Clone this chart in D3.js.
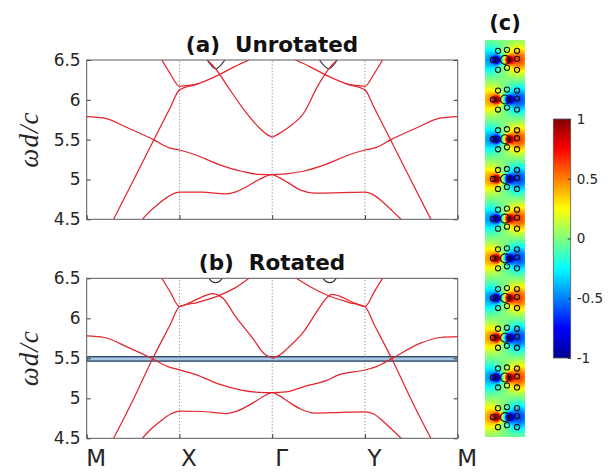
<!DOCTYPE html>
<html>
<head>
<meta charset="utf-8">
<script src="https://cdn.jsdelivr.net/npm/d3@7"></script>
<style>
  body { margin: 0; background: #fff; }
  text { font-family: "DejaVu Sans", sans-serif; fill: #262626; }
</style>
</head>
<body>
<svg id="chart"></svg>
<script>
// k-path positions and labels
const kPos = [0, 1, 2, 3, 4];
const kLabels = ["M", "X", "Γ", "Y", "M"];
const yTicks = [4.5, 5, 5.5, 6, 6.5];
const yTickLabels = ["4.5", "5", "5.5", "6", "6.5"];

// (a) unrotated bands, [k, wd/c]
const aSteepLeft = [[0.29,4.5],[0.5,4.98],[0.72,5.49],[0.9,5.9],[1,6.125],[1.2,6.2],[1.42,6.31],[1.6,6.42],[1.75,6.5]];
const aTopLeft = [[0.81,6.5],[0.9,6.33],[1,6.17],[1.1,6.18],[1.2,6.2]];
const aDescGamma = [[1.3,6.5],[1.39,6.39],[1.53,6.15],[1.68,5.9],[1.86,5.65],[1.95,5.56],[2,5.53]];
const aRiseGamma = [[2,5.53],[2.05,5.56],[2.17,5.65],[2.35,5.85],[2.48,6.15],[2.61,6.39],[2.7,6.5]];
const aSteepRight = [[2.25,6.5],[2.4,6.42],[2.58,6.31],[2.8,6.2],[3,6.125],[3.1,5.9],[3.28,5.49],[3.5,4.98],[3.71,4.5]];
const aTopRight = [[2.8,6.2],[2.9,6.18],[3,6.17],[3.1,6.33],[3.19,6.5]];
const aMid = [[0,5.79],[0.19,5.77],[0.44,5.65],[0.72,5.5],[0.88,5.4],[1,5.37],[1.17,5.31],[1.42,5.19],[1.68,5.1],[1.85,5.065],[2,5.06],
              [2.15,5.07],[2.32,5.1],[2.58,5.19],[2.83,5.31],[3,5.37],[3.12,5.4],[3.28,5.5],[3.56,5.65],[3.81,5.77],[4,5.79]];
const aLow = [[0.6,4.5],[0.68,4.6],[0.77,4.69],[0.9,4.8],[1,4.84],[1.24,4.84],[1.5,4.82],[1.6,4.84],[1.71,4.9],[1.86,5.0],[2,5.06],
              [2.08,5.02],[2.17,4.96],[2.3,4.87],[2.46,4.83],[2.75,4.835],[3,4.84],[3.1,4.8],[3.18,4.73],[3.3,4.6],[3.39,4.5]];
const aDarkLeft = [[1.3,6.5],[1.39,6.39],[1.49,6.5]];
const aDarkRight = [[2.51,6.5],[2.61,6.39],[2.7,6.5]];

// (b) rotated bands
const bSteepLeft = [[0.29,4.5],[0.5,4.98],[0.7,5.47],[0.9,5.92],[1,6.145],[1.2,6.2],[1.42,6.28],[1.6,6.38],[1.75,6.5]];
const bTopLeft = [[0.81,6.5],[0.9,6.33],[1,6.15],[1.12,6.2],[1.25,6.27],[1.36,6.31],[1.42,6.29],[1.47,6.25],[1.6,6.03],[1.79,5.75],[1.93,5.54],[2,5.51]];
const bTopRight = [[2,5.5],[2.08,5.54],[2.17,5.63],[2.35,5.85],[2.49,6.1],[2.6,6.27],[2.64,6.3],[2.72,6.28],[2.85,6.21],[3,6.15],[3.1,6.33],[3.19,6.5]];
const bSteepRight = [[2.26,6.5],[2.4,6.4],[2.57,6.3],[2.82,6.2],[3,6.145],[3.1,5.92],[3.3,5.47],[3.5,4.98],[3.71,4.5]];
const bMid = [[0,5.78],[0.19,5.76],[0.44,5.64],[0.7,5.5],[0.87,5.4],[1,5.355],[1.17,5.3],[1.42,5.18],[1.68,5.1],[1.85,5.075],[2,5.07],
              [2.15,5.08],[2.35,5.15],[2.58,5.22],[2.71,5.29],[3,5.354],[3.13,5.4],[3.28,5.49],[3.6,5.69],[3.81,5.76],[4,5.77]];
const bLow = [[0.6,4.5],[0.68,4.6],[0.77,4.69],[0.9,4.8],[1,4.84],[1.24,4.835],[1.5,4.81],[1.62,4.84],[1.79,4.94],[1.9,5.02],[2,5.07],
              [2.08,5.03],[2.17,4.96],[2.3,4.87],[2.46,4.815],[2.75,4.825],[3,4.83],[3.1,4.8],[3.18,4.73],[3.3,4.6],[3.39,4.5]];
const bDarkLeft = [[1.32,6.5],[1.35,6.46],[1.39,6.445],[1.43,6.46],[1.46,6.5]];
const bDarkRight = [[2.55,6.5],[2.58,6.46],[2.62,6.445],[2.66,6.46],[2.69,6.5]];
const bFlatBand = [5.465, 5.52];

// (c) field column: sign of each cell's dipole, rods around the centre
const cellSigns = [1, -1, 1, -1, 1, -1, 1, -1, 1, -1];
const rodOffsets = [[-7,-9],[2,-10],[12,-9],[-12,0],[12,-1],[-7,10],[2,8],[12,10]];
const cbTicks = [-1, -0.5, 0, 0.5, 1];
const cbTickLabels = ["-1", "-0.5", "0", "0.5", "1"];

const W = 608, H = 472;
const svg = d3.select("#chart").attr("width", W).attr("height", H);

const x = d3.scaleLinear().domain([0, 4]).range([86.7, 457.7]);

const panels = [
  { id: "a", title: "(a)  Unrotated", top: 60, bottom: 219.3, titleY: 52,
    red: [aSteepLeft, aTopLeft, aDescGamma, aRiseGamma, aSteepRight, aTopRight, aMid, aLow],
    dark: [aDarkLeft, aDarkRight], band: null, xLabels: false },
  { id: "b", title: "(b)  Rotated", top: 278.3, bottom: 438.3, titleY: 270,
    red: [bSteepLeft, bTopLeft, bTopRight, bSteepRight, bMid, bLow],
    dark: [bDarkLeft, bDarkRight], band: bFlatBand, xLabels: true }
];

panels.forEach(p => {
  const y = d3.scaleLinear().domain([4.5, 6.5]).range([p.bottom, p.top]);
  const g = svg.append("g");

  g.append("clipPath").attr("id", "clip-" + p.id)
    .append("rect")
    .attr("x", x(0)).attr("y", y(6.5))
    .attr("width", x(4) - x(0)).attr("height", y(4.5) - y(6.5));

  const plot = g.append("g").attr("clip-path", `url(#clip-${p.id})`);

  // dotted high-symmetry lines
  plot.selectAll("line.sym")
    .data(kPos.slice(1, 4))
    .enter().append("line")
    .attr("x1", d => x(d)).attr("x2", d => x(d))
    .attr("y1", y(4.5)).attr("y2", y(6.5))
    .attr("stroke", "#8a8a8a")
    .attr("stroke-width", 1)
    .attr("stroke-dasharray", "1.2,2");

  if (p.band) {
    plot.append("rect")
      .attr("x", x(0)).attr("width", x(4) - x(0))
      .attr("y", y(p.band[1])).attr("height", y(p.band[0]) - y(p.band[1]))
      .attr("fill", "#a9c6e3")
      .attr("stroke", "#2e4a6a")
      .attr("stroke-width", 1.4);
  }

  const line = d3.line()
    .x(d => x(d[0])).y(d => y(d[1]))
    .curve(d3.curveMonotoneX);

  plot.selectAll("path.dark")
    .data(p.dark)
    .enter().append("path")
    .attr("d", line)
    .attr("fill", "none")
    .attr("stroke", "#27323c")
    .attr("stroke-width", 1.2);

  plot.selectAll("path.red")
    .data(p.red)
    .enter().append("path")
    .attr("d", line)
    .attr("fill", "none")
    .attr("stroke", "#e3262e")
    .attr("stroke-width", 1.25);

  // axes
  const left = g.append("g")
    .attr("transform", `translate(${x(0)},0)`)
    .call(d3.axisLeft(y).tickValues(yTicks).tickSize(-4).tickPadding(6)
      .tickFormat((d, i) => yTickLabels[i]));
  left.selectAll("text").style("font-size", "17px");

  g.append("g")
    .attr("transform", `translate(${x(4)},0)`)
    .call(d3.axisRight(y).tickValues(yTicks).tickSize(-4).tickFormat(""));

  const bottom = g.append("g")
    .attr("transform", `translate(0,${y(4.5)})`)
    .call(d3.axisBottom(x).tickValues(kPos).tickSize(-4).tickPadding(11)
      .tickFormat((d, i) => p.xLabels ? kLabels[i] : ""));
  bottom.selectAll("text").style("font-size", "23px").attr("dx", 9);

  g.selectAll(".domain").remove();
  g.selectAll(".tick line").attr("stroke", "#333");

  g.append("rect")
    .attr("x", x(0)).attr("y", y(6.5))
    .attr("width", x(4) - x(0)).attr("height", y(4.5) - y(6.5))
    .attr("fill", "none").attr("stroke", "#5a5a5a").attr("stroke-width", 1);

  g.append("text")
    .attr("x", 272).attr("y", p.titleY)
    .attr("text-anchor", "middle")
    .style("font-size", "21.5px").style("font-weight", "bold")
    .style("white-space", "pre").style("fill", "#111")
    .text(p.title);

  g.append("text")
    .attr("transform", `translate(38,${(p.top + p.bottom) / 2}) rotate(-90)`)
    .attr("text-anchor", "middle")
    .style("font-family", "'Liberation Serif', serif")
    .style("font-style", "italic")
    .style("font-size", "27px")
    .style("letter-spacing", "1px")
    .text("ωd/c");
});

// (c) field column
const jet = d3.scaleLinear()
  .domain([-1, -0.75, -0.25, 0.25, 0.75, 1])
  .range(["#00008f", "#0000ff", "#00ffff", "#ffff00", "#ff0000", "#800000"])
  .clamp(true);

const col = { x0: 485, y0: 40, w: 40, h: 397 };
const pitch = col.h / cellSigns.length;
const cx = col.x0 + col.w / 2;
const gauss = (dx, dy, s) => Math.exp(-(dx * dx + dy * dy) / (2 * s * s));
const dipole = (dx, dy) =>
  0.95 * gauss(dx - 4, dy, 3) - 0.95 * gauss(dx + 8, dy, 3) +
  0.62 * gauss(dx - 14, dy, 9) - 0.45 * gauss(dx + 15, dy, 9);

const canvas = document.createElement("canvas");
canvas.width = col.w; canvas.height = col.h;
const ctx = canvas.getContext("2d");
const img = ctx.createImageData(col.w, col.h);
for (let py = 0; py < col.h; py++) {
  for (let px = 0; px < col.w; px++) {
    const dx = px + 0.5 - col.w / 2;
    let v = 0;
    cellSigns.forEach((s, i) => {
      const dy = py + 0.5 - (i + 0.5) * pitch;
      if (Math.abs(dy) < 40) v += s * dipole(dx, dy);
    });
    const c = d3.rgb(jet(v));
    const k = (py * col.w + px) * 4;
    img.data[k] = c.r; img.data[k + 1] = c.g; img.data[k + 2] = c.b; img.data[k + 3] = 255;
  }
}
ctx.putImageData(img, 0, 0);

svg.append("image")
  .attr("x", col.x0).attr("y", col.y0)
  .attr("width", col.w).attr("height", col.h)
  .attr("href", canvas.toDataURL());

const cells = svg.append("g").selectAll("g")
  .data(cellSigns)
  .enter().append("g")
  .attr("transform", (d, i) => `translate(${cx},${col.y0 + (i + 0.5) * pitch})`);

cells.selectAll("circle.rod")
  .data(rodOffsets)
  .enter().append("circle")
  .attr("cx", d => d[0]).attr("cy", d => d[1]).attr("r", 2.6)
  .attr("fill", "none").attr("stroke", "#111").attr("stroke-width", 1.1);

cells.append("circle")
  .attr("cx", 0).attr("cy", 0).attr("r", 4.5)
  .attr("fill", "none").attr("stroke", "#111").attr("stroke-width", 1.1);

svg.append("text")
  .attr("x", 505).attr("y", 30)
  .attr("text-anchor", "middle")
  .style("font-size", "21px").style("font-weight", "bold").style("fill", "#111")
  .text("(c)");

// colorbar
const cb = { x0: 553.3, w: 17.4, top: 119, bottom: 358 };
const yc = d3.scaleLinear().domain([-1, 1]).range([cb.bottom, cb.top]);

const grad = svg.append("defs").append("linearGradient")
  .attr("id", "jetgrad")
  .attr("x1", 0).attr("y1", 1).attr("x2", 0).attr("y2", 0);
grad.selectAll("stop")
  .data(jet.domain())
  .enter().append("stop")
  .attr("offset", d => (d + 1) / 2)
  .attr("stop-color", d => jet(d));

svg.append("rect")
  .attr("x", cb.x0).attr("y", cb.top)
  .attr("width", cb.w).attr("height", cb.bottom - cb.top)
  .attr("fill", "url(#jetgrad)")
  .attr("stroke", "#5a5a5a").attr("stroke-width", 0.8);

const cbAxis = svg.append("g")
  .attr("transform", `translate(${cb.x0 + cb.w},0)`)
  .call(d3.axisRight(yc).tickValues(cbTicks).tickSize(-3).tickPadding(6)
    .tickFormat((d, i) => cbTickLabels[i]));
cbAxis.select(".domain").remove();
cbAxis.selectAll(".tick line").attr("stroke", "#333");
cbAxis.selectAll("text").style("font-size", "13.5px");
</script>
</body>
</html>
